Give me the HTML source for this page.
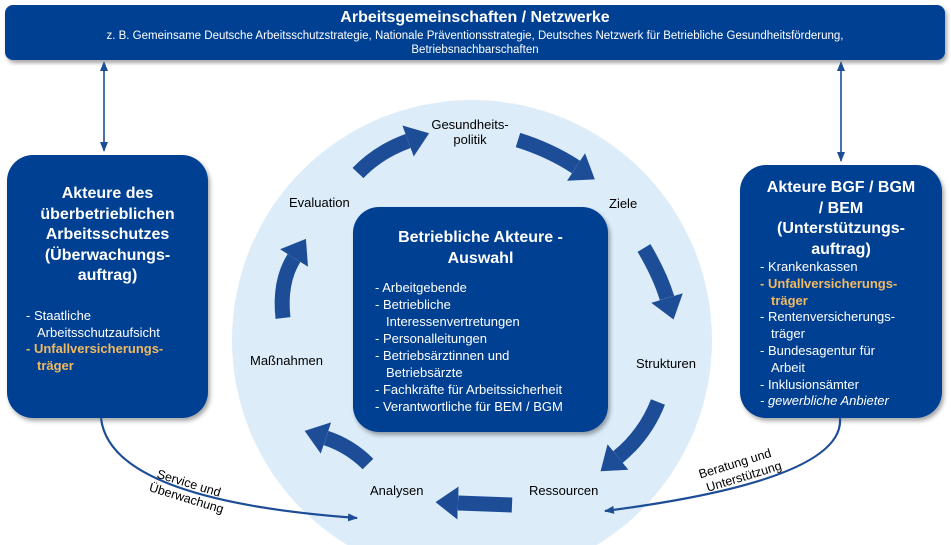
<!DOCTYPE html>
<html style="overflow:hidden"><head><meta charset="utf-8"><style>
html,body{margin:0;width:951px;height:545px;overflow:hidden}
body{background:#fff;font-family:"Liberation Sans",sans-serif;position:relative}
.t{position:absolute;white-space:nowrap}
.c{text-align:center}
.w{color:#fff}
.o{color:#f0b962;font-weight:bold}
ul{margin:0;padding:0;list-style:none}
li{padding-left:11px;text-indent:-11px}
</style></head><body>
<svg width="951" height="545" style="position:absolute;left:0;top:0">
<defs>
<marker id="h" markerWidth="1.5" markerHeight="2.2" refX="0" refY="1.1" orient="auto" markerUnits="strokeWidth"><path d="M0,0 L1.5,1.1 L0,2.2 z" fill="#1e4d97"/></marker>
<marker id="s" markerWidth="10" markerHeight="8" refX="9" refY="4" orient="auto" markerUnits="userSpaceOnUse"><path d="M0,0 L10,4 L0,8 z" fill="#1e4d97"/></marker>
<marker id="s2" markerWidth="10" markerHeight="8" refX="1" refY="4" orient="auto-start-reverse" markerUnits="userSpaceOnUse"><path d="M0,0 L10,4 L0,8 z" fill="#1e4d97"/></marker>
<filter id="sh"><feDropShadow dx="2" dy="3" stdDeviation="2" flood-opacity="0.35"/></filter>
</defs>
<circle cx="472" cy="340" r="240" fill="#dcecf9"/>
<rect x="5" y="5" width="940" height="55" rx="8" fill="#034192" filter="url(#sh)"/>
<rect x="7" y="155" width="201" height="263" rx="26" fill="#034192" filter="url(#sh)"/>
<rect x="740" y="165" width="202" height="253" rx="26" fill="#034192" filter="url(#sh)"/>
<rect x="353" y="207" width="255" height="225" rx="26" fill="#034192" filter="url(#sh)"/>
<line x1="104" y1="70" x2="104" y2="151" stroke="#1e4d97" stroke-width="1.6" marker-start="url(#s2)" marker-end="url(#s)"/>
<line x1="841" y1="70" x2="841" y2="161" stroke="#1e4d97" stroke-width="1.6" marker-start="url(#s2)" marker-end="url(#s)"/>
<path d="M101,418 Q110,500 357,518" fill="none" stroke="#1e4d97" stroke-width="2.2" marker-end="url(#s)"/>
<path d="M840,418 Q845,480 605,511" fill="none" stroke="#1e4d97" stroke-width="2.2" marker-end="url(#s)"/>
<g fill="none" stroke="#1e4d97" stroke-width="15" marker-end="url(#h)">
<path d="M358,173 Q378,152 408,141"/>
<path d="M518,140 Q550,150 576,167"/>
<path d="M644,248 Q660,275 667,298"/>
<path d="M658,402 Q645,435 618,457"/>
<path d="M512,505 Q485,504 458,503"/>
<path d="M368,464 Q350,446 326,438"/>
<path d="M283,318 Q279,282 294,258"/>
</g>
</svg>
<div class="t c w" style="left:5px;width:940px;top:9px;font-size:16px;font-weight:bold">Arbeitsgemeinschaften / Netzwerke</div>
<div class="t c w" style="left:5px;width:940px;top:29px;font-size:11.5px;line-height:14px;white-space:normal">z. B. Gemeinsame Deutsche Arbeitsschutzstrategie, Nationale Präventionsstrategie, Deutsches Netzwerk für Betriebliche Gesundheitsförderung,<br>Betriebsnachbarschaften</div>
<div class="t c w" style="left:7px;width:201px;top:184px;font-size:16px;font-weight:bold;line-height:20.5px">Akteure des<br>überbetrieblichen<br>Arbeitsschutzes<br>(Überwachungs-<br>auftrag)</div>
<ul class="t w" style="left:26px;top:308px;font-size:13px;line-height:16.5px"><li>- Staatliche<br>Arbeitsschutzaufsicht</li><li class="o">- Unfallversicherungs-<br>träger</li></ul>
<div class="t c w" style="left:740px;width:202px;top:178px;font-size:16px;font-weight:bold;line-height:20.5px">Akteure BGF / BGM<br>/ BEM<br>(Unterstützungs-<br>auftrag)</div>
<ul class="t w" style="left:760px;top:259px;font-size:13px;line-height:16.8px"><li>- Krankenkassen</li><li class="o">- Unfallversicherungs-<br>träger</li><li>- Rentenversicherungs-<br>träger</li><li>- Bundesagentur für<br>Arbeit</li><li>- Inklusionsämter</li><li><i>- gewerbliche Anbieter</i></li></ul>
<div class="t c w" style="left:353px;width:255px;top:228px;font-size:16px;font-weight:bold;line-height:20.5px">Betriebliche Akteure -<br>Auswahl</div>
<ul class="t w" style="left:375px;top:279px;font-size:13px;line-height:17px"><li>- Arbeitgebende</li><li>- Betriebliche<br>Interessenvertretungen</li><li>- Personalleitungen</li><li>- Betriebsärztinnen und<br>Betriebsärzte</li><li>- Fachkräfte für Arbeitssicherheit</li><li>- Verantwortliche für BEM / BGM</li></ul>
<div class="t c" style="left:420px;width:100px;top:117px;font-size:13px;line-height:15px">Gesundheits-<br>politik</div>
<div class="t" style="left:609px;top:196px;font-size:13px">Ziele</div>
<div class="t" style="left:636px;top:356px;font-size:13px">Strukturen</div>
<div class="t" style="left:529px;top:483px;font-size:13px">Ressourcen</div>
<div class="t" style="left:370px;top:483px;font-size:13px">Analysen</div>
<div class="t" style="left:250px;top:353px;font-size:13px">Maßnahmen</div>
<div class="t" style="left:289px;top:195px;font-size:13px">Evaluation</div>
<div class="t" style="left:156px;top:466px;font-size:12.5px;line-height:15px;transform:rotate(17deg);transform-origin:left top">&nbsp;Service und<br>Überwachung</div>
<div class="t" style="left:697px;top:468px;font-size:12.5px;line-height:15px;transform:rotate(-17deg);transform-origin:left top">Beratung und<br>&nbsp;Unterstützung</div>
</body></html>
